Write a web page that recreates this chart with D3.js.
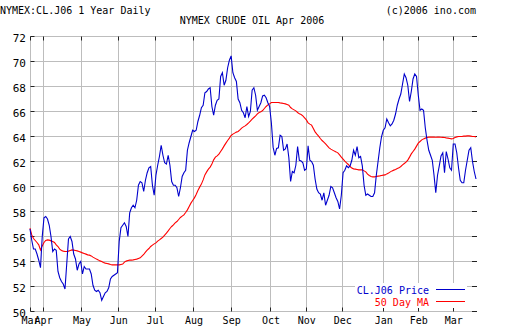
<!DOCTYPE html>
<html>
<head>
<meta charset="utf-8">
<script src="https://cdn.jsdelivr.net/npm/d3@7/dist/d3.min.js"></script>
<style>
  html, body { margin: 0; padding: 0; background: #fff; }
  svg { display: block; }
  text { font-family: "DejaVu Sans Mono", "Liberation Mono", monospace; }
</style>
</head>
<body>
<svg id="chart" width="512" height="335"></svg>
<script>
// NYMEX crude oil (CL.J06), one year of daily settles with 50-day moving average.
// Values are indexed by trading day.
const price = [
  56.6, 55.7, 55.0, 55.0, 54.6, 54.1, 53.5, 56.0, 57.5, 57.6,
  57.4, 56.9, 56.0, 54.8, 55.0, 54.9, 53.2, 52.7, 52.4, 52.2,
  51.8, 53.8, 55.8, 56.0, 55.6, 54.6, 54.2, 53.3, 53.8, 54.0,
  53.0, 53.6, 53.4, 53.4, 53.4, 53.0, 52.1, 51.7, 51.6, 51.7,
  51.5, 50.9, 51.2, 51.5, 51.6, 51.9, 52.6, 52.8, 52.9, 53.0,
  53.1, 55.6, 56.7, 56.9, 57.1, 56.8, 56.0, 57.9, 58.3, 58.5,
  58.3, 58.9, 60.1, 60.4, 60.3, 59.6, 60.5, 61.1, 61.5, 61.6,
  60.1, 59.3, 60.9, 61.7, 62.4, 63.3, 62.5, 61.9, 61.8, 62.5,
  61.7, 60.4, 60.1, 60.1, 59.9, 59.2, 59.9, 60.8, 61.1, 61.3,
  62.9, 63.5, 64.0, 64.5, 64.4, 64.5, 65.2, 65.7, 66.3, 66.5,
  67.5, 67.6, 67.8, 67.9, 66.4, 65.7, 66.5, 66.9, 67.0, 68.8,
  69.1, 68.1, 68.5, 69.5, 70.1, 70.45, 69.1, 68.7, 68.4, 67.0,
  66.7, 66.1, 65.9, 65.5, 66.4, 65.6, 66.0, 67.7, 67.9, 67.3,
  66.1, 66.4, 66.7, 67.25, 67.3, 67.1, 66.7, 66.4, 65.1, 63.15,
  62.5, 63.05, 63.1, 64.1, 64.0, 62.9, 63.0, 63.4, 62.3, 60.4,
  61.2, 61.1, 61.7, 63.2, 62.1, 62.05, 61.9, 61.3, 61.4, 63.25,
  62.1, 62.0, 61.7, 60.6, 59.8, 59.5, 59.4, 58.9, 59.5, 58.5,
  58.9, 59.3, 60.0, 59.9, 59.5, 59.1, 58.8, 58.2, 59.3, 61.1,
  61.3, 61.65, 61.5, 61.65, 62.1, 62.9, 62.5, 63.2, 62.3, 62.4,
  61.65, 60.1, 59.3, 59.4, 59.3, 59.2, 59.2, 59.5, 60.9, 62.0,
  63.1, 64.0, 64.5, 64.7, 65.4, 65.1, 64.85, 65.0, 65.3, 65.8,
  66.5, 67.0, 67.4, 68.2, 69.0, 68.7, 68.1, 66.8, 67.6, 68.6,
  69.0, 68.8, 67.3, 66.1, 66.2, 66.1, 64.7, 63.7, 62.9, 62.5,
  62.1, 60.9, 59.5, 60.9, 61.65, 62.45, 62.7, 61.1, 62.8, 62.2,
  61.5, 61.3, 63.4, 63.4, 62.7, 61.5, 60.5, 60.3, 60.3, 61.3,
  62.1, 62.9, 63.1, 62.0, 61.2, 60.6
];

const ma50 = [
  56.67, 56.13, 55.84, 55.68, 55.52, 55.33, 54.93, 55.25, 55.52, 55.68,
  55.73, 55.71, 55.65, 55.60, 55.52, 55.33, 55.20, 54.99, 54.88, 54.83,
  54.80, 54.80, 54.83, 54.88, 54.93, 54.91, 54.88, 54.85, 54.80, 54.75,
  54.69, 54.64, 54.59, 54.53, 54.51, 54.45, 54.35, 54.27, 54.19, 54.13,
  54.05, 54.00, 53.92, 53.87, 53.84, 53.81, 53.76, 53.73, 53.73, 53.73,
  53.73, 53.73, 53.76, 53.79, 53.95, 54.03, 54.08, 54.11, 54.11, 54.13,
  54.16, 54.19, 54.24, 54.29, 54.43, 54.56, 54.75, 54.91, 55.04, 55.20,
  55.31, 55.41, 55.49, 55.63, 55.73, 55.84, 55.95, 56.11, 56.27, 56.45,
  56.64, 56.80, 56.93, 57.09, 57.20, 57.36, 57.52, 57.63, 57.73, 57.92,
  58.13, 58.40, 58.67, 58.88, 59.09, 59.36, 59.68, 59.95, 60.19, 60.53,
  60.93, 61.17, 61.39, 61.55, 61.79, 62.13, 62.35, 62.45, 62.59, 62.80,
  63.01, 63.25, 63.47, 63.68, 63.87, 64.08, 64.19, 64.27, 64.35, 64.40,
  64.53, 64.67, 64.77, 64.85, 64.96, 65.09, 65.23, 65.39, 65.52, 65.65,
  65.81, 65.92, 65.97, 66.08, 66.24, 66.40, 66.53, 66.61, 66.72, 66.72,
  66.72, 66.72, 66.72, 66.69, 66.67, 66.64, 66.61, 66.56, 66.51, 66.32,
  66.21, 66.13, 66.05, 65.92, 65.81, 65.76, 65.65, 65.49, 65.33, 65.09,
  64.99, 64.91, 64.64, 64.37, 64.19, 64.03, 63.84, 63.68, 63.55, 63.41,
  63.25, 63.09, 62.99, 62.91, 62.83, 62.77, 62.69, 62.53, 62.35, 62.19,
  62.03, 61.89, 61.76, 61.60, 61.47, 61.41, 61.39, 61.36, 61.33, 61.33,
  61.33, 61.25, 61.17, 60.99, 60.88, 60.80, 60.77, 60.77, 60.80, 60.83,
  60.85, 60.88, 60.91, 60.93, 61.01, 61.07, 61.17, 61.25, 61.31, 61.36,
  61.44, 61.49, 61.60, 61.73, 61.84, 61.95, 62.11, 62.35, 62.61, 62.80,
  62.99, 63.23, 63.47, 63.60, 63.73, 63.81, 63.87, 63.92, 63.95, 63.96,
  63.95, 63.95, 63.94, 63.95, 63.95, 63.94, 63.93, 63.92, 63.89, 63.87,
  63.84, 63.81, 63.84, 63.92, 63.97, 64.00, 64.00, 64.00, 64.03, 64.03,
  64.05, 64.05, 64.03, 64.00, 64.00, 63.97
];

// First trading day of each month (as trading-day position) and its label
const monthPos = [0, 7.5, 29.5, 50.5, 71.5, 93.5, 115, 137.5, 158, 178.5, 202, 222, 242];
const monthLabels = ["Mar", "Apr", "May", "Jun", "Jul", "Aug", "Sep", "Oct", "Nov", "Dec", "Jan", "Feb", "Mar"];

const yTicks = [50, 52, 54, 56, 58, 60, 62, 64, 66, 68, 70, 72];

const svg = d3.select("#chart");
const plotLeft = 30, plotRight = 476, plotTop = 36.5, plotBottom = 311.5;
const gridRight = 477;

const x = d3.scaleLinear().domain([0, price.length - 1]).range([plotLeft, plotRight]);
const y = d3.scaleLinear().domain([50, 72]).range([plotBottom, plotTop]);
const crisp = v => Math.floor(v) + 0.5;

const gridColor = "#bdbdbd";
const tickColor = "#222";

// Horizontal grid
svg.append("g").selectAll("line").data(yTicks).join("line")
  .attr("x1", crisp(plotLeft)).attr("x2", gridRight)
  .attr("y1", d => crisp(y(d))).attr("y2", d => crisp(y(d)))
  .attr("stroke", gridColor).attr("stroke-width", 1);

// Vertical grid
svg.append("g").selectAll("line").data(monthPos).join("line")
  .attr("x1", d => crisp(x(d))).attr("x2", d => crisp(x(d)))
  .attr("y1", crisp(y(72))).attr("y2", crisp(y(50)))
  .attr("stroke", gridColor).attr("stroke-width", 1);

// Short dark ticks inside the frame
const ticks = svg.append("g").attr("stroke", tickColor).attr("stroke-width", 1);
yTicks.forEach(v => {
  const yy = crisp(y(v));
  ticks.append("line").attr("x1", crisp(plotLeft)).attr("x2", crisp(plotLeft) + 4).attr("y1", yy).attr("y2", yy);
  ticks.append("line").attr("x1", gridRight - 5).attr("x2", gridRight).attr("y1", yy).attr("y2", yy);
});
monthPos.forEach(m => {
  const xx = crisp(x(m));
  ticks.append("line").attr("x1", xx).attr("x2", xx).attr("y1", crisp(y(72))).attr("y2", crisp(y(72)) + 4);
  ticks.append("line").attr("x1", xx).attr("x2", xx).attr("y1", crisp(y(50)) - 4).attr("y2", crisp(y(50)));
});

// Axis labels
const yAxis = d3.axisLeft(y).tickValues(yTicks).tickSize(0).tickPadding(0).tickFormat(d3.format("d"));
const gy = svg.append("g").attr("transform", "translate(26,1.5)").call(yAxis);
gy.select(".domain").remove();
gy.selectAll("text").attr("font-size", 11).attr("font-family", "DejaVu Sans Mono").attr("fill", "#000");

const xAxis = d3.axisBottom(x).tickValues(monthPos).tickSize(0).tickPadding(0)
  .tickFormat((d, i) => monthLabels[i]);
const gx = svg.append("g").attr("transform", "translate(0,317)").call(xAxis);
gx.select(".domain").remove();
gx.selectAll("text").attr("font-size", 10).attr("font-family", "DejaVu Sans Mono").attr("fill", "#000");

// Series
const line = d3.line().x((d, i) => x(i)).y(d => y(d));
svg.append("path").datum(ma50).attr("d", line)
  .attr("fill", "none").attr("stroke", "#ff0000").attr("stroke-width", 1.1);
svg.append("path").datum(price).attr("d", line)
  .attr("fill", "none").attr("stroke", "#0000cc").attr("stroke-width", 1.1);

// Legend
const lg = svg.append("g");
lg.append("rect").attr("x", 355).attr("y", 283).attr("width", 112).attr("height", 25).attr("fill", "#fff");
const legendItems = [
  { label: "CL.J06 Price", color: "#0000cc", yy: 294 },
  { label: "50 Day MA", color: "#ff0000", yy: 306 }
];
legendItems.forEach(it => {
  lg.append("text").attr("x", 429).attr("y", it.yy).attr("text-anchor", "end")
    .attr("font-size", 10).attr("fill", it.color).text(it.label);
  lg.append("line").attr("x1", 436).attr("x2", 465).attr("y1", it.yy - 4.5).attr("y2", it.yy - 4.5)
    .attr("stroke", it.color).attr("stroke-width", 1);
});

// Titles
svg.append("text").attr("x", 0).attr("y", 14).attr("font-size", 10).attr("fill", "#000")
  .text("NYMEX:CL.J06 1 Year Daily");
svg.append("text").attr("x", 476).attr("y", 14).attr("font-size", 10).attr("fill", "#000")
  .attr("text-anchor", "end").text("(c)2006 ino.com");
svg.append("text").attr("x", 252).attr("y", 24).attr("font-size", 10).attr("fill", "#000")
  .attr("text-anchor", "middle").text("NYMEX CRUDE OIL Apr 2006");
</script>
</body>
</html>
